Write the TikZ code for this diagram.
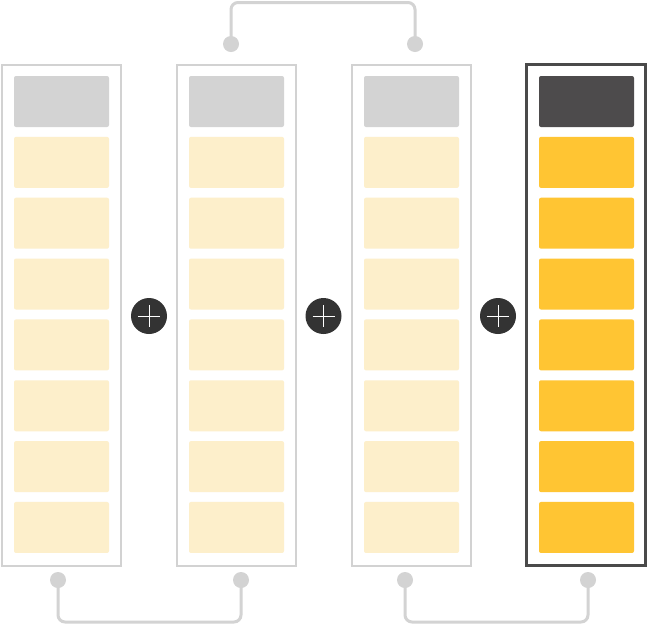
\documentclass[tikz,border=0pt]{standalone}
\usetikzlibrary{backgrounds}
\definecolor{frameg}{HTML}{D2D2D2}
\definecolor{headg}{HTML}{D3D3D3}
\definecolor{lighty}{HTML}{FDEFCB}
\definecolor{stry}{HTML}{FFC533}
\definecolor{darkf}{HTML}{4A4A4A}
\definecolor{darkh}{HTML}{4D4B4C}
\definecolor{plusc}{HTML}{333333}
\tikzset{
  colbox/.style={draw=frameg, line width=2pt, minimum width=119pt, minimum height=501pt, inner sep=0pt},
  cell/.style={rounded corners=2pt, minimum width=95pt, minimum height=51pt, inner sep=0pt},
  dot/.style={circle, fill=headg, minimum size=16pt, inner sep=0pt},
  conn/.style={draw=headg, line width=3pt, rounded corners=7pt},
  plusnode/.style={circle, fill=plusc, minimum size=36pt, inner sep=0pt}
}
\begin{document}
\begin{tikzpicture}[x=1pt,y=-1pt]
\useasboundingbox (0,0) rectangle (647,625);
% columns
\foreach \c in {0,1,2} {
  \node[colbox] (col\c) at ({61+175*\c},315) {};
  \node[cell, fill=headg] (h\c) at ({61.5+175*\c},101.5) {};
  \foreach \k in {1,...,7} {
    \node[cell, fill=lighty] (c\c-\k) at ({61.5+175*\c},{101.5+60.85*\k}) {};
  }
}
\node[colbox, draw=darkf, line width=2.4pt] (col3) at (586,315) {};
\node[cell, fill=darkh] (h3) at (586.5,101.5) {};
\foreach \k in {1,...,7} {
  \node[cell, fill=stry] (c3-\k) at (586.5,{101.5+60.85*\k}) {};
}
% plus signs
\foreach \i/\x in {1/149,2/323.5,3/498} {
  \node[plusnode] (p\i) at (\x,316) {};
  \draw[white, line width=1pt] (p\i.center) ++(-11,0) -- ++(22,0);
  \draw[white, line width=1pt] (p\i.center) ++(0,-11) -- ++(0,22);
}
% dots
\node[dot] (t1) at (231,44) {};
\node[dot] (t2) at (415,44) {};
\node[dot] (b1) at (58,580) {};
\node[dot] (b2) at (241,580) {};
\node[dot] (b3) at (405,580) {};
\node[dot] (b4) at (588,580) {};
\coordinate (topmid) at (323,2.5);
\coordinate (bot1) at (150,622);
\coordinate (bot2) at (497,622);
\begin{scope}[on background layer]
\fill[white] (0,0) rectangle (647,625);
\draw[conn] (t1.center) |- (topmid) -| (t2.center);
\draw[conn] (b1.center) |- (bot1) -| (b2.center);
\draw[conn] (b3.center) |- (bot2) -| (b4.center);
\end{scope}
\end{tikzpicture}
\end{document}
